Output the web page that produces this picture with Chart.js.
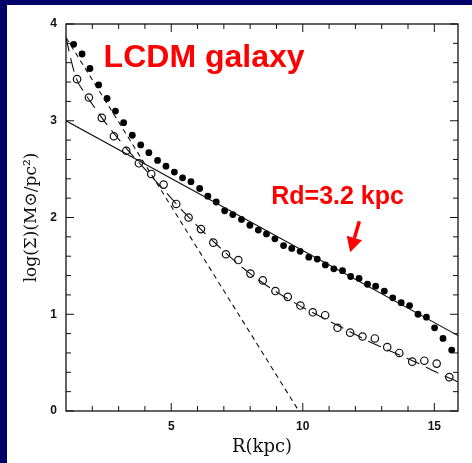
<!DOCTYPE html>
<html>
<head>
<meta charset="utf-8">
<script src="https://cdn.jsdelivr.net/npm/chart.js@4.4.1/dist/chart.umd.min.js"></script>
<style>
  html, body { margin: 0; padding: 0; background: #000068; }
  #wrap { position: absolute; left: 0; top: 0; width: 472px; height: 463px; }
</style>
</head>
<body>
<div id="wrap"><canvas id="c" width="472" height="463"></canvas></div>
<script>
// ---- data ----
const rFilled = [1.29,1.61,1.91,2.24,2.56,2.88,3.19,3.52,3.84,4.15,4.48,4.80,5.12,5.43,5.75,6.08,6.39,6.71,7.03,7.34,7.67,7.99,8.31,8.62,8.94,9.27,9.58,9.90,10.23,10.55,10.86,11.18,11.51,11.82,12.14,12.46,12.77,13.10,13.42,13.74,14.06,14.38,14.70,15.01,15.33,15.66];
const logFilled = [3.79,3.69,3.54,3.37,3.23,3.10,2.98,2.85,2.75,2.67,2.59,2.53,2.47,2.41,2.37,2.30,2.22,2.16,2.07,2.03,1.98,1.92,1.87,1.83,1.78,1.71,1.68,1.65,1.59,1.57,1.51,1.47,1.45,1.39,1.37,1.31,1.29,1.24,1.17,1.12,1.09,1.00,0.97,0.86,0.75,0.63];

const rOpen = [1.42,1.87,2.36,2.82,3.29,3.77,4.24,4.71,5.19,5.66,6.13,6.60,7.08,7.55,8.01,8.48,8.96,9.43,9.91,10.38,10.85,11.32,11.80,12.27,12.74,13.21,13.67,14.16,14.62,15.09,15.57];
const logOpen = [3.43,3.24,3.03,2.84,2.69,2.56,2.45,2.34,2.14,2.00,1.88,1.74,1.62,1.56,1.42,1.35,1.24,1.18,1.09,1.02,0.99,0.86,0.81,0.77,0.75,0.66,0.60,0.51,0.52,0.49,0.35];

const rTotal = [1,1.2,1.4,1.7,2,2.5,3,3.5,4,4.5,5,5.5,6,6.5,7,7.5,8,8.5,9,9.5,10,10.5,11,11.5,12,12.5,13,13.5,14,14.5,15,15.5,15.9];
const logTotal = [3.86,3.62,3.43,3.29,3.17,2.98,2.81,2.65,2.50,2.35,2.20,2.05,1.91,1.78,1.65,1.53,1.42,1.32,1.23,1.15,1.07,1.00,0.93,0.86,0.79,0.72,0.66,0.60,0.54,0.48,0.41,0.35,0.30];

const rDisk = [1, 15.9];
const logDisk = [3.0, 0.78];

const rBulge = [1, 9.85];
const logBulge = [3.86, 0.0];

const xMajorTicks = [5, 10, 15];
const xMinorTicks = [2,3,4,6,7,8,9,11,12,13,14];
const yMajorTicks = [0, 1, 2, 3, 4];
const yMinorTicks = [0.2,0.4,0.6,0.8,1.2,1.4,1.6,1.8,2.2,2.4,2.6,2.8,3.2,3.4,3.6,3.8];

const xTitle = 'R(kpc)';
const yTitle = 'log(Σ)(M⊙/pc²)';

const labels = [
  { text: 'LCDM galaxy', x: 2.43, y: 3.56, size: 32 },
  { text: 'Rd=3.2 kpc', x: 8.80, y: 2.14, size: 25 }
];
const arrowFrom = { x: 12.15, y: 1.96 };
const arrowTo = { x: 11.80, y: 1.64 };

const NAVY = '#000068';
const toPts = (xs, ys) => xs.map((x, i) => ({ x: x, y: ys[i] }));

const deco = {
  id: 'deco',
  beforeDraw(chart) {
    const ctx = chart.ctx;
    ctx.save();
    ctx.fillStyle = NAVY;
    ctx.fillRect(0, 0, chart.width, chart.height);
    ctx.fillStyle = '#ffffff';
    ctx.fillRect(7, 5, chart.width - 7, chart.height - 5);
    ctx.restore();
  },
  afterDatasetsDraw(chart) {
    const ctx = chart.ctx;
    const a = chart.chartArea;
    const xs = chart.scales.x, ys = chart.scales.y;
    ctx.save();
    ctx.strokeStyle = '#111';
    ctx.lineWidth = 1.3;
    ctx.strokeRect(a.left, a.top, a.right - a.left, a.bottom - a.top);
    ctx.lineWidth = 1;
    ctx.beginPath();
    const tick = (v, len) => {
      const p = xs.getPixelForValue(v);
      ctx.moveTo(p, a.bottom); ctx.lineTo(p, a.bottom - len);
      ctx.moveTo(p, a.top); ctx.lineTo(p, a.top + len);
    };
    const ytick = (v, len) => {
      const p = ys.getPixelForValue(v);
      ctx.moveTo(a.left, p); ctx.lineTo(a.left + len, p);
      ctx.moveTo(a.right, p); ctx.lineTo(a.right - len, p);
    };
    xMajorTicks.forEach(v => tick(v, 8));
    xMinorTicks.forEach(v => tick(v, 5));
    yMajorTicks.forEach(v => ytick(v, 8));
    yMinorTicks.forEach(v => ytick(v, 5));
    ctx.stroke();

    // red annotations
    ctx.fillStyle = '#ff0000';
    ctx.textBaseline = 'alphabetic';
    ctx.textAlign = 'left';
    labels.forEach(l => {
      ctx.font = 'bold ' + l.size + 'px "Liberation Sans", Arial, sans-serif';
      ctx.fillText(l.text, xs.getPixelForValue(l.x), ys.getPixelForValue(l.y));
    });
    const x0 = xs.getPixelForValue(arrowFrom.x), y0 = ys.getPixelForValue(arrowFrom.y);
    const x1 = xs.getPixelForValue(arrowTo.x), y1 = ys.getPixelForValue(arrowTo.y);
    const ang = Math.atan2(y1 - y0, x1 - x0);
    const hl = 15, hw = 8;
    const bx = x1 - hl * Math.cos(ang), by = y1 - hl * Math.sin(ang);
    ctx.strokeStyle = '#ff0000';
    ctx.lineWidth = 3.5;
    ctx.beginPath();
    ctx.moveTo(x0, y0); ctx.lineTo(bx, by);
    ctx.stroke();
    ctx.beginPath();
    ctx.moveTo(x1, y1);
    ctx.lineTo(bx + hw * Math.sin(ang), by - hw * Math.cos(ang));
    ctx.lineTo(bx - hw * Math.sin(ang), by + hw * Math.cos(ang));
    ctx.closePath();
    ctx.fill();
    ctx.restore();
  }
};

new Chart(document.getElementById('c'), {
  type: 'scatter',
  data: {
    datasets: [
      { label: 'disk', data: toPts(rDisk, logDisk), showLine: true, borderColor: '#111', borderWidth: 1.1, pointRadius: 0, fill: false },
      { label: 'bulge', data: toPts(rBulge, logBulge), showLine: true, borderColor: '#111', borderWidth: 1.1, borderDash: [5, 4], pointRadius: 0, fill: false },
      { label: 'total', data: toPts(rTotal, logTotal), showLine: true, borderColor: '#111', borderWidth: 1.1, borderDash: [14, 7], cubicInterpolationMode: 'monotone', pointRadius: 0, fill: false },
      { label: 'open', data: toPts(rOpen, logOpen), showLine: false, pointRadius: 3.7, pointBackgroundColor: 'rgba(255,255,255,0)', pointBorderColor: '#111', pointBorderWidth: 1.2 },
      { label: 'filled', data: toPts(rFilled, logFilled), showLine: false, pointRadius: 3.4, pointBackgroundColor: '#000', pointBorderColor: '#000', pointBorderWidth: 0 }
    ]
  },
  options: {
    responsive: false,
    animation: false,
    devicePixelRatio: 1,
    layout: { padding: { left: 0, right: 14, top: 24, bottom: 0 } },
    plugins: { legend: { display: false }, tooltip: { enabled: false } },
    scales: {
      x: {
        type: 'linear', min: 1, max: 15.9,
        afterBuildTicks: s => { s.ticks = xMajorTicks.map(v => ({ value: v })); },
        afterFit: s => { s.height = 52; },
        grid: { display: false, drawTicks: false },
        border: { display: false },
        ticks: { color: '#111', padding: 8, maxRotation: 0, font: { family: '"Liberation Sans", Arial, sans-serif', size: 12, weight: 'bold' } },
        title: { display: true, text: xTitle, color: '#111', padding: { top: 0, bottom: 5 }, font: { family: '"DejaVu Serif", serif', size: 18 } }
      },
      y: {
        type: 'linear', min: 0, max: 4,
        afterBuildTicks: s => { s.ticks = yMajorTicks.map(v => ({ value: v })); },
        afterFit: s => { s.width = 66; },
        grid: { display: false, drawTicks: false },
        border: { display: false },
        ticks: { color: '#111', padding: 9, font: { family: '"Liberation Sans", Arial, sans-serif', size: 12, weight: 'bold' } },
        title: { display: true, text: yTitle, color: '#111', padding: { top: 21, bottom: 0 }, font: { family: '"DejaVu Serif", serif', size: 17 } }
      }
    }
  },
  plugins: [deco]
});
</script>
</body>
</html>
